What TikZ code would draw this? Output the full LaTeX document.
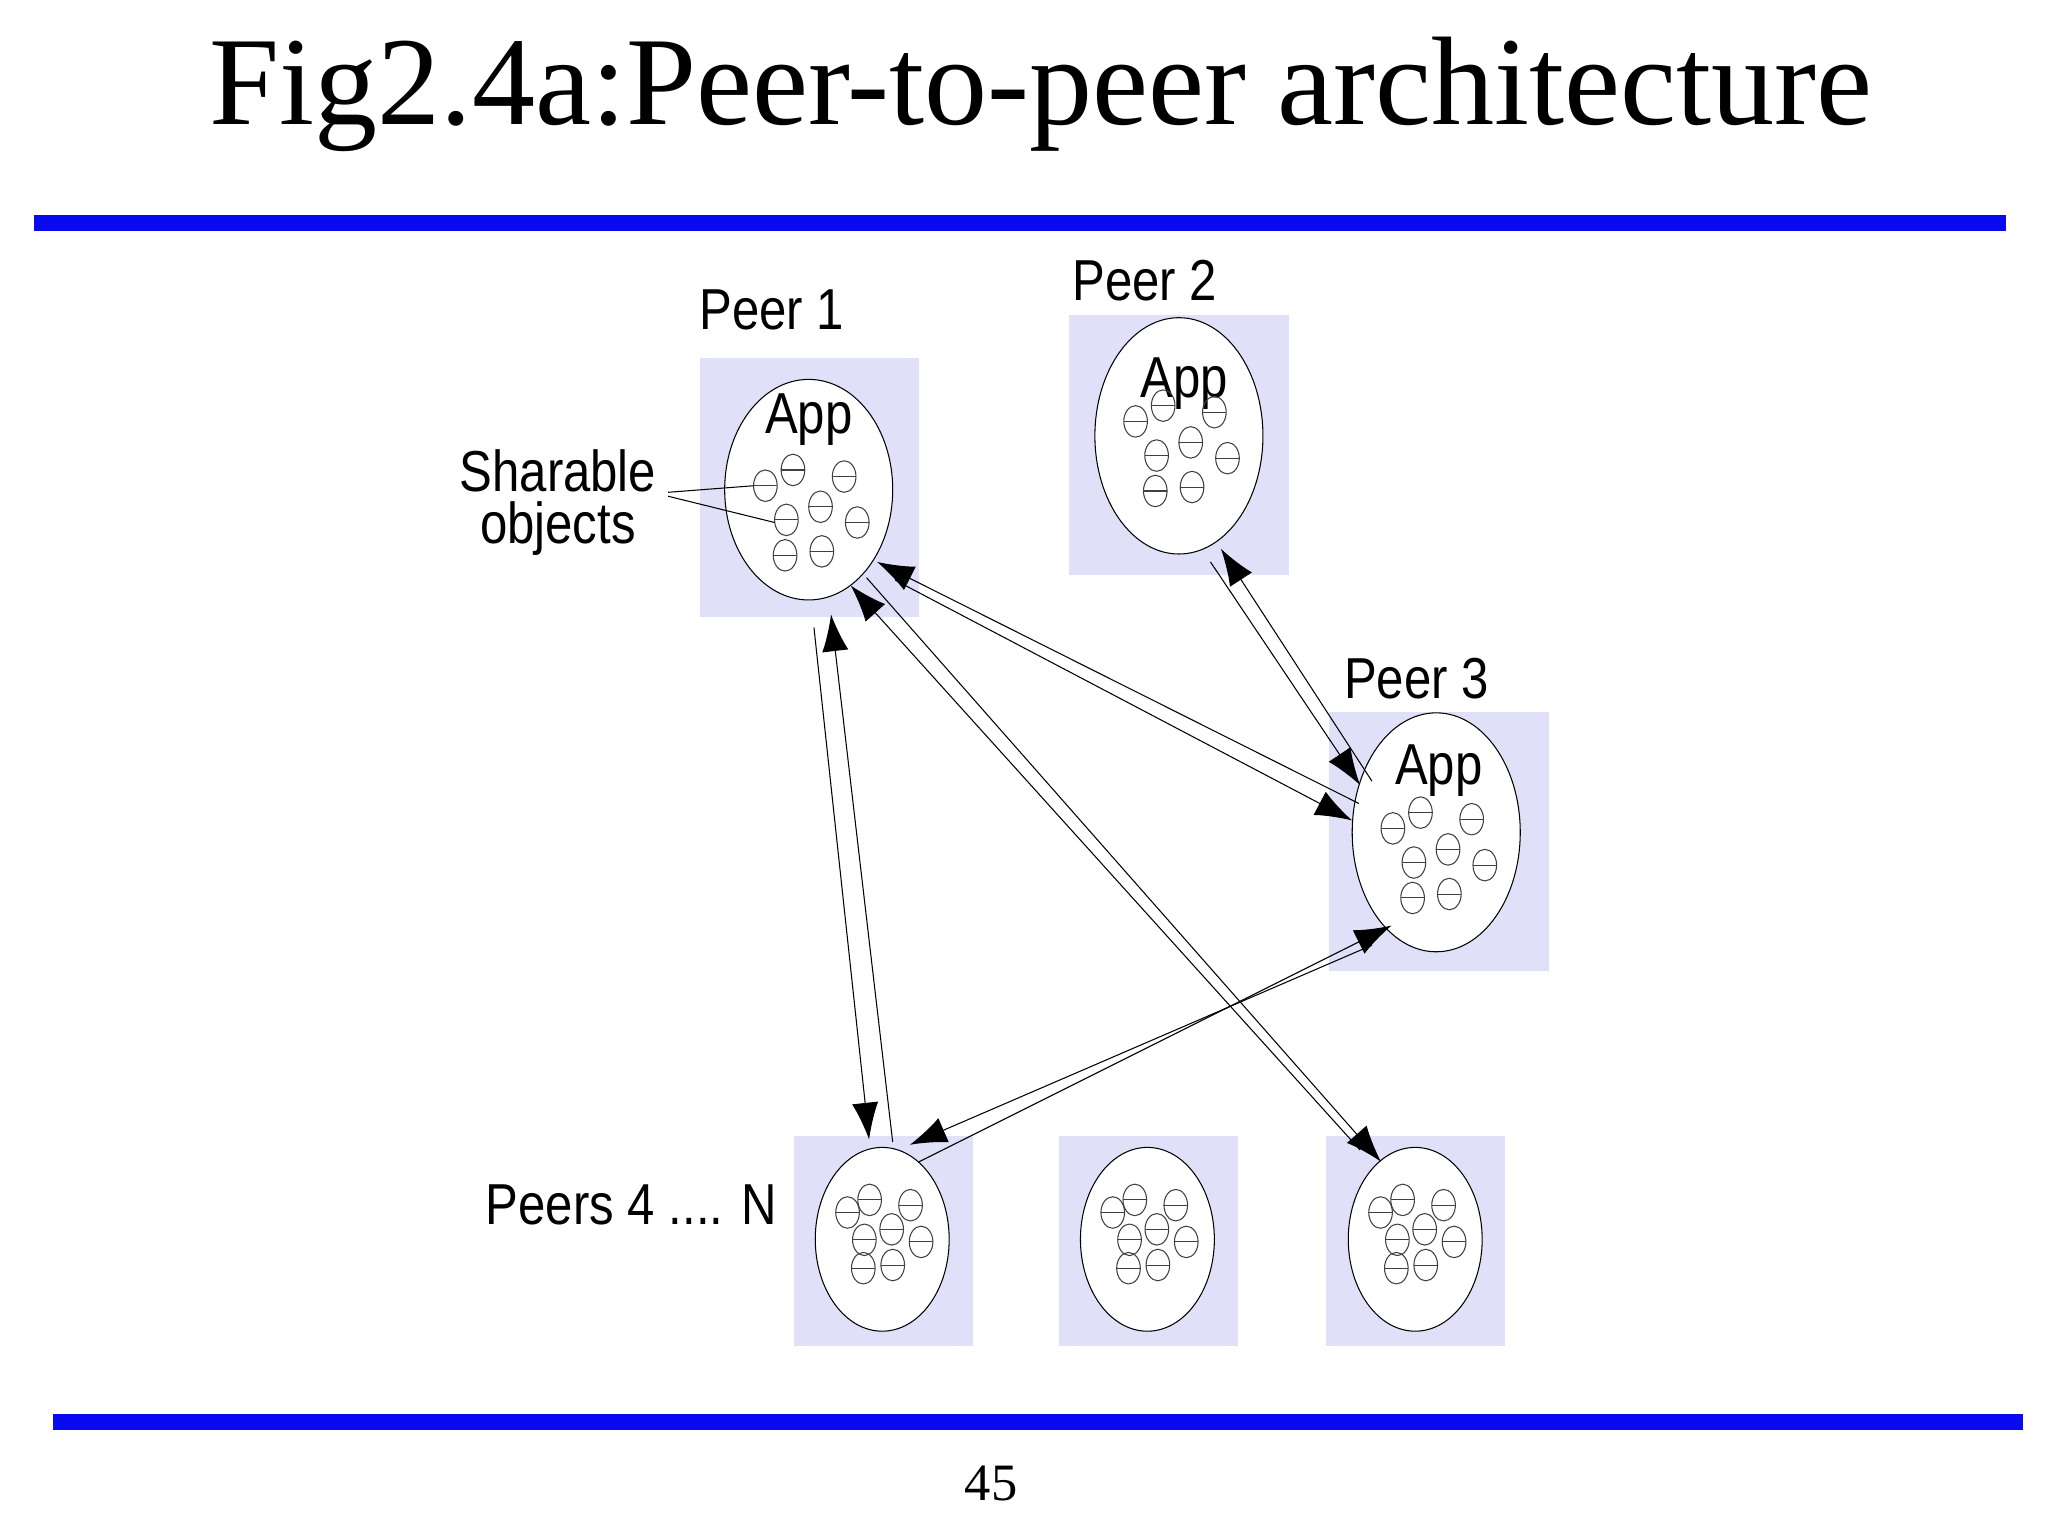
\documentclass[tikz,border=0pt]{standalone}
\usepackage{fontspec}
\setmainfont{Liberation Serif}
\newfontfamily\peerfont[FakeStretch=0.85]{Liberation Sans}
\usetikzlibrary{arrows.meta,shapes.geometric,calc}
\definecolor{boxblue}{RGB}{224,224,248}
\definecolor{lineblue}{RGB}{10,10,240}
% one sharable object (a small pill)
\newcommand{\pill}[1]{%
  \draw[obj] (#1) ellipse (9 and 12);
  \draw[obj] ($(#1)+(-9,0)$) -- ($(#1)+(9,0)$);}
\begin{document}
\begin{tikzpicture}[x=0.5pt,y=-0.5pt,
    peerbox/.style={fill=boxblue,draw=none},
    peerell/.style={ellipse,draw,fill=white,thin,inner sep=0pt},
    obj/.style={draw=black!75,thin},
    link/.style={thin,-{Latex[length=14pt,width=10pt]}},
    lbl/.style={font=\peerfont\fontsize{22}{22}\selectfont}]
\useasboundingbox (0,0) rectangle (1560,1170);
\node[font=\fontsize{48}{50}\selectfont] (title) at (793,72) {Fig2.4a:Peer-to-peer architecture};
\fill[lineblue] (26,164) rectangle (1528,176);
\fill[lineblue] (40,1077) rectangle (1541,1089);
\node[font=\fontsize{20}{22}\selectfont] (page) at (755,1130) {45};

% peer boxes
\fill[peerbox] (533,273) rectangle (700,470);
\fill[peerbox] (814,240) rectangle (982,438);
\fill[peerbox] (1012,542) rectangle (1180,740);
\foreach \x in {605,807,1010}
  \fill[peerbox] (\x,865) rectangle (\x+136,1025);

% peers
\node[peerell,minimum width=64pt,minimum height=84pt] (p1) at (616,373) {};
\node[peerell,minimum width=64pt,minimum height=90pt] (p2) at (898,332) {};
\node[peerell,minimum width=64pt,minimum height=91pt] (p3) at (1094,634) {};
\node[peerell,minimum width=51pt,minimum height=70pt] (p4) at (672,944) {};
\node[peerell,minimum width=51pt,minimum height=70pt] (p5) at (874,944) {};
\node[peerell,minimum width=51pt,minimum height=70pt] (p6) at (1078,944) {};

\node[lbl] at (616,320) {App};
\node[lbl] at (902,292) {App};
\node[lbl] at (1096,587) {App};

% objects
\foreach \c/\s/\dy in {p1/1/0,p2/1/-8,p3/1/0,p4/0.8/-18,p5/0.8/-18,p6/0.8/-18}
  \foreach \ox/\oy in {-33/-3,-12/-15,27/-10,-17/23,9/13,37/25,-18/50,10/47}
    \pill{$(\c)+(\s*\ox,\s*\oy+\dy)$};

% labels
\node[lbl] (pl1) at (588,236) {Peer 1};
\node[lbl] (pl2) at (872,214) {Peer 2};
\node[lbl] (pl3) at (1079,517) {Peer 3};
\node[lbl] (pl4) at (481,918) {Peers 4 .... N};
\node[lbl,align=center,font=\peerfont\fontsize{22}{20}\selectfont] (share) at (425,383) {Sharable\\objects};
\coordinate (s1) at (574,370);
\coordinate (s2) at (590,398);
\draw ($(share.east)+(2,-8)$) -- (s1);
\draw ($(share.east)+(2,-5)$) -- (s2);

% connectors
\coordinate (a1) at (680,870); \coordinate (a2) at (633,468);
\coordinate (a3) at (620,478); \coordinate (a4) at (662,868);
\draw[link] (a1) -- (a2);
\draw[link] (a3) -- (a4);
\coordinate (b1) at (1035,612); \coordinate (b2) at (668,428);
\coordinate (b3) at (682,442); \coordinate (b4) at (1030,625);
\draw[link] (b1) -- (b2);
\draw[link] (b3) -- (b4);
\coordinate (c1) at (1036,876); \coordinate (c2) at (648,446);
\coordinate (c3) at (660,440); \coordinate (c4) at (1052,885);
\draw[link] (c1) -- (c2);
\draw[link] (c3) -- (c4);
\coordinate (d1) at (1045,595); \coordinate (d2) at (930,418);
\coordinate (d3) at (922,428); \coordinate (d4) at (1036,598);
\draw[link] (d1) -- (d2);
\draw[link] (d3) -- (d4);
\coordinate (e1) at (700,885); \coordinate (e2) at (1060,705);
\coordinate (e3) at (1045,720); \coordinate (e4) at (693,872);
\draw[link] (e1) -- (e2);
\draw[link] (e3) -- (e4);
\end{tikzpicture}
\end{document}
